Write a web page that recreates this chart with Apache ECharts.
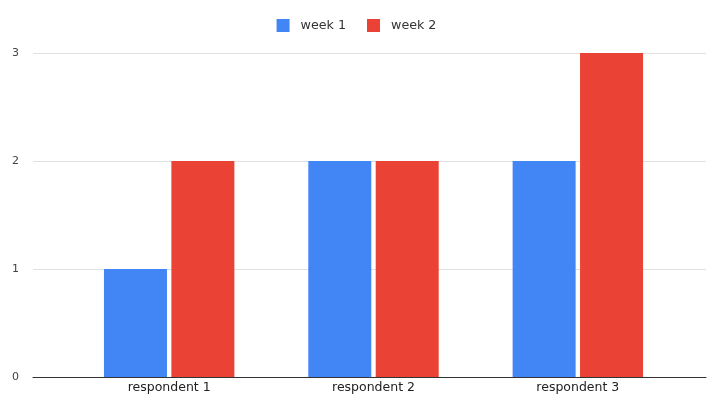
<!DOCTYPE html>
<html><head><meta charset="utf-8">
<script src="https://cdn.jsdelivr.net/npm/echarts@6/dist/echarts.min.js"></script>
<style>html,body{margin:0;padding:0;background:#fff}#c{width:713px;height:399px}</style>
</head><body><div id="c"></div>
<script>
const categories = ['respondent 1', 'respondent 2', 'respondent 3'];
const week1 = [1, 2, 2];
const week2 = [2, 2, 3];
const yTicks = [0, 1, 2, 3];

const chart = echarts.init(document.getElementById('c'));
const font = 'DejaVu Sans, sans-serif';
chart.setOption({
  animation: false,
  textStyle: { fontFamily: font },
  legend: {
    top: 14, left: 'center',
    itemWidth: 13, itemHeight: 13, itemGap: 21,
    icon: 'rect',
    textStyle: { fontSize: 12.7, color: '#333', fontFamily: font, padding: [0, 0, 0, 6] },
    data: ['week 1', 'week 2']
  },
  grid: [
    { left: 33, right: 7, top: 53, bottom: 22 },
    { left: 67, right: 33, top: 53, bottom: 22 }
  ],
  xAxis: [
    { gridIndex: 0, type: 'value', min: 0, max: 1, show: true,
      axisLine: { show: true, onZero: false, lineStyle: { color: '#333', width: 1 } },
      axisTick: { show: false }, axisLabel: { show: false }, splitLine: { show: false } },
    { gridIndex: 1, type: 'category', data: categories,
      axisLine: { show: false }, axisTick: { show: false },
      axisLabel: { color: '#222', fontSize: 12.5, margin: 4, fontFamily: font } }
  ],
  yAxis: [
    { gridIndex: 0, type: 'value', min: yTicks[0], max: yTicks[yTicks.length - 1], interval: 1,
      axisLine: { show: false }, axisTick: { show: false },
      axisLabel: { color: '#444', fontSize: 11, margin: 14, fontFamily: font },
      splitLine: { lineStyle: { color: '#e0e0e0', width: 1 } } },
    { gridIndex: 1, type: 'value', min: yTicks[0], max: yTicks[yTicks.length - 1], interval: 1, show: false }
  ],
  series: [
    { name: 'week 1', type: 'bar', xAxisIndex: 1, yAxisIndex: 1, data: week1,
      barWidth: 63, barGap: '7%', itemStyle: { color: '#4285F4' } },
    { name: 'week 2', type: 'bar', xAxisIndex: 1, yAxisIndex: 1, data: week2,
      barWidth: 63, barGap: '7%', itemStyle: { color: '#EA4335' } }
  ]
});
</script></body></html>
